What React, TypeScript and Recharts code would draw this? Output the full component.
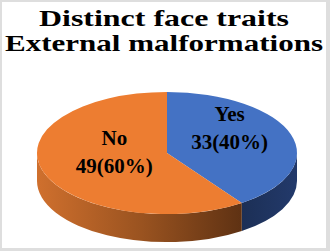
import { PieChart, Pie, Cell } from "recharts";

const categories = ["Yes", "No"];
const counts = [33, 49];
const titleLines = ["Distinct face traits", "External malformations"];
const titleWidths = [250, 318];

const topColors = ["#4472C4", "#ED7D31"];
const wallFills = ["url(#wallBlue)", "url(#wallOrange)"];

const data = categories.map((name, i) => ({ name, value: counts[i] }));

const CX = 162;
const CY = 148;
const R = 130;
const TILT = 0.47; // ry / rx of the tilted disc
const DEPTH = 28;
const RAD = Math.PI / 180;
const FONT = "Liberation Serif, DejaVu Serif, Tinos, Noto Serif, FreeSerif, Times New Roman, serif";

function pt(cx: number, cy: number, r: number, a: number, dy = 0) {
  return [cx + r * Math.cos(a * RAD), cy - r * TILT * Math.sin(a * RAD) + dy];
}

function TopShape(props: any) {
  const { cx, cy, outerRadius: r, startAngle, endAngle, fill } = props;
  const [x1, y1] = pt(cx, cy, r, startAngle);
  const [x2, y2] = pt(cx, cy, r, endAngle);
  const large = Math.abs(startAngle - endAngle) > 180 ? 1 : 0;
  const sweep = startAngle > endAngle ? 1 : 0;
  const d = `M${cx},${cy} L${x1},${y1} A${r},${r * TILT} 0 ${large} ${sweep} ${x2},${y2} Z`;
  return <path d={d} fill={fill} />;
}

function WallShape(props: any) {
  const { cx, cy, outerRadius: r, startAngle, endAngle, fill } = props;
  const hi = Math.max(startAngle, endAngle);
  const lo = Math.min(startAngle, endAngle);
  const paths: string[] = [];
  // only the front half of the rim (sin < 0) is visible
  for (const k of [-720, -360, 0, 360]) {
    const a = Math.min(hi, k);
    const b = Math.max(lo, k - 180);
    if (a <= b) continue;
    const [x1, y1] = pt(cx, cy, r, a);
    const [x2, y2] = pt(cx, cy, r, b);
    const ry = r * TILT;
    paths.push(
      `M${x1},${y1} A${r},${ry} 0 0 1 ${x2},${y2} L${x2},${y2 + DEPTH} A${r},${ry} 0 0 0 ${x1},${y1 + DEPTH} Z`
    );
  }
  return <path d={paths.join(" ")} fill={fill} />;
}

function renderLabel(props: any) {
  const { cx, cy, midAngle, outerRadius: r, name, value, percent } = props;
  const x = cx + 5 + r * 0.465 * Math.cos(midAngle * RAD);
  const y = cy - 20 - r * TILT * 0.64 * Math.sin(midAngle * RAD);
  return (
    <text x={x} y={y} textAnchor="middle" fill="#000" style={{ fontFamily: FONT }} fontWeight="bold" fontSize={21}>
      <tspan x={x} dy={0}>{name}</tspan>
      <tspan x={x} dy={28}>{`${value}(${Math.round(percent * 100)}%)`}</tspan>
    </text>
  );
}

export default function App() {
  return (
    <div
      style={{
        position: "absolute",
        left: 0,
        top: 0,
        width: 330,
        height: 251,
        background: "#DEDEDE",
      }}
    >
      <svg width={330} height={251} style={{ position: "absolute", left: 0, top: 0 }}>
        <defs>
          <linearGradient id="wallOrange" gradientUnits="userSpaceOnUse" x1={32} y1={0} x2={250} y2={0}>
            <stop offset="0%" stopColor="#D2712E" />
            <stop offset="50%" stopColor="#9A5320" />
            <stop offset="100%" stopColor="#5A2F12" />
          </linearGradient>
          <linearGradient id="wallBlue" gradientUnits="userSpaceOnUse" x1={240} y1={0} x2={294} y2={0}>
            <stop offset="0%" stopColor="#1C2F55" />
            <stop offset="100%" stopColor="#22396A" />
          </linearGradient>
        </defs>
        <rect x={2} y={2} width={324} height={246} fill="#fff" />
        {titleLines.map((t, i) => (
          <text
            key={t}
            x={164}
            y={26 + i * 25}
            textAnchor="middle"
            style={{ fontFamily: FONT }}
            fontWeight="bold"
            fontSize={23}
            textLength={titleWidths[i]}
            lengthAdjust="spacingAndGlyphs"
            fill="#000"
          >
            {t}
          </text>
        ))}
      </svg>
      <div style={{ position: "absolute", left: 0, top: 0 }}>
        <PieChart width={330} height={251}>
          <Pie
            data={data}
            dataKey="value"
            nameKey="name"
            cx={CX}
            cy={CY}
            outerRadius={R}
            startAngle={90}
            endAngle={-270}
            stroke="none"
            shape={WallShape}
            label={false}
            isAnimationActive={false}
          >
            {data.map((d, i) => (
              <Cell key={d.name} fill={wallFills[i]} />
            ))}
          </Pie>
          <Pie
            data={data}
            dataKey="value"
            nameKey="name"
            cx={CX}
            cy={CY}
            outerRadius={R}
            startAngle={90}
            endAngle={-270}
            stroke="none"
            shape={TopShape}
            label={renderLabel}
            labelLine={false}
            isAnimationActive={false}
          >
            {data.map((d, i) => (
              <Cell key={d.name} fill={topColors[i]} />
            ))}
          </Pie>
        </PieChart>
      </div>
    </div>
  );
}
